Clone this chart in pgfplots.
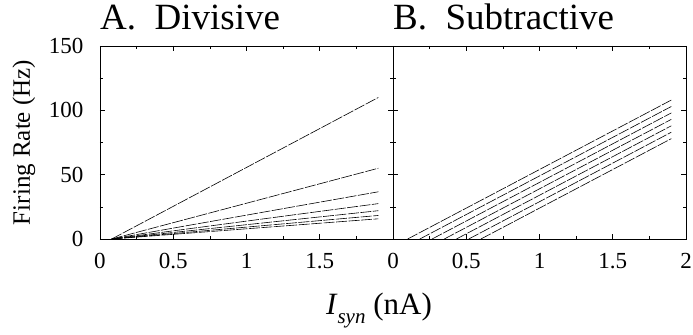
\documentclass[border=0pt]{standalone}
\usepackage{fontspec}
\setmainfont{Liberation Serif}
\usepackage{pgfplots}
\pgfplotsset{compat=1.18}
\begin{document}
\begin{tikzpicture}
\useasboundingbox (-100bp,-96bp) rectangle (593bp,239bp);
\pgfplotsset{
  panel/.style={
    width=293bp, height=193bp, scale only axis,
    xmin=0, xmax=2, ymin=0, ymax=150,
    tick align=inside,
    major tick length=5bp, minor tick length=3bp,
    ytick={0,50,100,150}, minor ytick={25,75,125},
    minor xtick={0.25,0.75,1.25,1.75},
    axis line style={line width=0.8bp},
    every tick/.style={black, line width=0.6bp},
    ticklabel style={font=\fontsize{23bp}{23bp}\selectfont},
    xticklabel style={yshift=-11bp},
    yticklabel style={xshift=-13bp},
    /pgf/number format/assume math mode=true,
    title style={at={(0,1)}, anchor=base west, yshift=11bp, inner sep=0pt,
      font=\fontsize{37bp}{37bp}\selectfont},
    clip=false,
  },
  ln/.style={black, line width=0.6bp, dash pattern=on 11bp off 1.5bp},
}
\begin{axis}[panel, name=A, at={(0,0)}, anchor=south west,
  xtick={0,0.5,1,1.5},
  title={A.\ \ Divisive},
  ylabel={Firing Rate (Hz)},
  ylabel style={font=\fontsize{25bp}{25bp}\selectfont, at={(axis description cs:-0.26,0.5)}, anchor=center},
  xlabel={\textit{I}\raisebox{-0.3em}{\fontsize{21bp}{21bp}\selectfont\textit{syn}} (nA)},
  xlabel style={font=\fontsize{31bp}{31bp}\selectfont, at={(axis description cs:0.952,-0.39)}, anchor=base},
  yticklabel pos=left,
]
\addplot[ln] coordinates {(0.08,0) (1.9,110)};
\addplot[ln] coordinates {(0.08,0) (1.9,55)};
\addplot[ln] coordinates {(0.08,0) (1.9,36.7)};
\addplot[ln] coordinates {(0.08,0) (1.9,27.5)};
\addplot[ln] coordinates {(0.08,0) (1.9,22)};
\addplot[ln] coordinates {(0.08,0) (1.9,18.3)};
\addplot[ln] coordinates {(0.08,0) (1.9,15.7)};
\end{axis}
\begin{axis}[panel, name=B, at={(A.south east)}, anchor=south west,
  xtick={0,0.5,1,1.5,2},
  title={B.\ \ Subtractive},
  yticklabels={},
]
\addplot[ln] coordinates {(0.1,0) (1.9,108)};
\addplot[ln] coordinates {(0.183,0) (1.9,103)};
\addplot[ln] coordinates {(0.267,0) (1.9,98)};
\addplot[ln] coordinates {(0.35,0) (1.9,93)};
\addplot[ln] coordinates {(0.433,0) (1.9,88)};
\addplot[ln] coordinates {(0.517,0) (1.9,83)};
\addplot[ln] coordinates {(0.6,0) (1.9,78)};
\end{axis}
\end{tikzpicture}
\end{document}
